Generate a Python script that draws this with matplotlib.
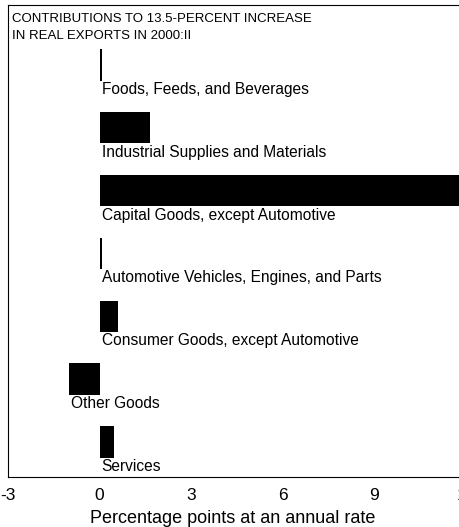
import numpy as np
from matplotlib import pyplot as plt

categories = ["Foods, Feeds, and Beverages", "Industrial Supplies and Materials",
              "Capital Goods, except Automotive", "Automotive Vehicles, Engines, and Parts",
              "Consumer Goods, except Automotive", "Other Goods", "Services"]
values = [0.09, 1.65, 11.8, 0.08, 0.6, -1.0, 0.47]
xticks = [-3, 0, 3, 6, 9, 12]

plt.rcParams['font.family'] = ['Liberation Sans', 'DejaVu Sans']
plt.rcParams['axes.unicode_minus'] = False

fig = plt.figure(figsize=(4.6, 5.27), dpi=100)
ax = fig.add_axes([8/460, 1 - 477/527, 458/460, 472/527])

y_pos = np.arange(len(categories))
ax.barh(y_pos, values, height=0.5, color='black')

for y, v, name in zip(y_pos, values, categories):
    ax.text(min(v, 0) + 0.07, y + 0.39, name, va='center', ha='left', fontsize=11.2)

ax.text(-2.87, -0.6, "CONTRIBUTIONS TO 13.5-PERCENT INCREASE\nIN REAL EXPORTS IN 2000:II",
        va='center', ha='left', fontsize=9.5, linespacing=1.58)

ax.set_xlim(-3, 12)
ax.set_ylim(6.56, -0.955)
ax.set_xticks(xticks)
ax.set_yticks([])
ax.tick_params(axis='x', length=0, pad=8, labelsize=12.5)
ax.set_xlabel('Percentage points at an annual rate', fontsize=13)
ax.xaxis.set_label_coords(0.491, -0.07)
for s in ax.spines.values():
    s.set_linewidth(0.8)
ax.spines['right'].set_visible(False)

fig.savefig('out.png', dpi=100)
